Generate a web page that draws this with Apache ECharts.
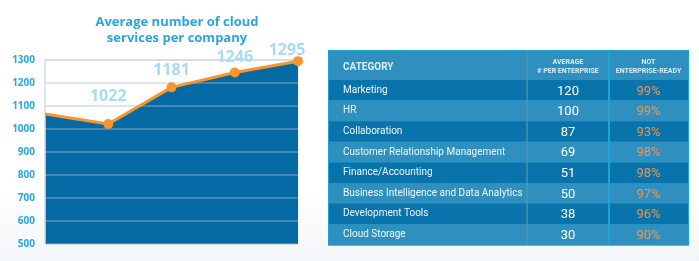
<!DOCTYPE html>
<html><head><meta charset="utf-8">
<script src="https://cdn.jsdelivr.net/npm/echarts@6/dist/echarts.min.js"></script>
<style>
html,body{margin:0;padding:0;}
body{background:linear-gradient(to bottom,#ffffff 0%,#ffffff 72%,#f3f6f9 100%);}
#c{width:699px;height:261px;}
</style>
</head><body><div id="c"></div>
<script>
// ---- line/area chart data ----
const periods = ['p0', 'p1', 'p2', 'p3', 'p4'];
const cloudServices = [1065, 1022, 1181, 1246, 1295];
const labelledPoint = [false, true, true, true, true];
const yMin = 500, yMax = 1300, yStep = 100;

// ---- table data ----
const tableHeaders = ['CATEGORY', 'AVERAGE\n# PER ENTERPRISE', 'NOT\nENTERPRISE-READY'];
const tableCategories = ['Marketing', 'HR', 'Collaboration', 'Customer Relationship Management',
  'Finance/Accounting', 'Business Intelligence and Data Analytics', 'Development Tools', 'Cloud Storage'];
const avgPerEnterprise = [120, 100, 87, 69, 51, 50, 38, 30];
const notEnterpriseReady = ['99%', '99%', '93%', '98%', '98%', '97%', '96%', '90%'];

const chart = echarts.init(document.getElementById('c'), null, {renderer: 'canvas'});

// table layout
const T = {left: 329, right: 688, top: 51, headerH: 29, rowH: 20.6, col1: 527, col2: 609};
const graphics = [];
const tableBottom = T.top + T.headerH + T.rowH * tableCategories.length;
graphics.push({type: 'rect', shape: {x: T.left - 1, y: T.top - 1, width: T.right - T.left + 2, height: tableBottom - T.top + 2}, style: {fill: '#19a4d5'}, z: 0});
graphics.push({type: 'rect', shape: {x: T.left, y: T.top, width: T.right - T.left, height: T.headerH}, style: {fill: '#2f8fbf'}, z: 1});
tableCategories.forEach((c, i) => {
  const y = T.top + T.headerH + i * T.rowH;
  graphics.push({type: 'rect', shape: {x: T.left, y: y, width: T.right - T.left, height: T.rowH}, style: {fill: i % 2 === 0 ? '#0874ab' : '#2f90c0'}, z: 1});
  graphics.push({type: 'text', x: 343, y: y + T.rowH / 2, style: {text: c, fill: '#eef7fc', font: '10px Roboto', verticalAlign: 'middle'}, z: 3});
  graphics.push({type: 'text', x: (T.col1 + T.col2) / 2, y: y + T.rowH / 2 + 1, style: {text: String(avgPerEnterprise[i]), fill: '#ffffff', font: '13px Roboto', align: 'center', verticalAlign: 'middle'}, z: 3});
  graphics.push({type: 'text', x: (T.col2 + T.right) / 2, y: y + T.rowH / 2 + 1, style: {text: notEnterpriseReady[i], fill: '#f0954c', font: '13px Roboto', align: 'center', verticalAlign: 'middle'}, z: 3});
});
// dividers
graphics.push({type: 'rect', shape: {x: T.col1 - 0.5, y: T.top, width: 1.2, height: tableBottom - T.top}, style: {fill: '#5f92aa'}, z: 2});
graphics.push({type: 'rect', shape: {x: T.col2 - 1, y: T.top, width: 2, height: tableBottom - T.top}, style: {fill: '#19a6d6'}, z: 2});
// header text
graphics.push({type: 'text', x: 343, y: T.top + T.headerH / 2 + 2, style: {text: tableHeaders[0], fill: '#d8eef9', font: 'bold 10px Roboto', verticalAlign: 'middle'}, z: 3});
graphics.push({type: 'text', x: (T.col1 + T.col2) / 2, y: T.top + T.headerH / 2 + 1, style: {text: tableHeaders[1], fill: '#d8eef9', font: 'bold 7px Roboto', align: 'center', verticalAlign: 'middle', lineHeight: 9}, z: 3});
graphics.push({type: 'text', x: (T.col2 + T.right) / 2, y: T.top + T.headerH / 2 + 1, style: {text: tableHeaders[2], fill: '#d8eef9', font: 'bold 7px Roboto', align: 'center', verticalAlign: 'middle', lineHeight: 9}, z: 3});

const labelDist = [0, 15, 4, 2, -2];
const labelShiftX = [0, 0, 0, 0, -11];

chart.setOption({
  backgroundColor: 'transparent',
  animation: false,
  title: {
    text: 'Average number of cloud\nservices per company',
    left: 172, top: 9, textAlign: 'center',
    textStyle: {color: '#2aa6dc', fontFamily: 'Open Sans', fontWeight: 'bold', fontSize: 13, lineHeight: 16}
  },
  grid: {left: 45, top: 60, width: 253, height: 184, show: true, borderColor: '#e2e7eb', borderWidth: 1, backgroundColor: 'transparent'},
  xAxis: {
    type: 'category', data: periods, boundaryGap: false,
    axisLabel: {show: false}, axisTick: {show: false},
    axisLine: {show: true, lineStyle: {color: '#d7dee4', width: 1}}, z: 4
  },
  yAxis: {
    type: 'value', min: yMin, max: yMax, interval: yStep, z: 3,
    axisLine: {show: true, lineStyle: {color: '#dbe2e7', width: 1.5}},
    axisTick: {show: false},
    axisLabel: {color: '#2aa7de', fontFamily: 'Open Sans', fontWeight: 'bold', fontSize: 10, margin: 10,
      formatter: v => String(v)},
    splitLine: {show: true, lineStyle: {color: 'rgba(175,185,205,0.5)', width: 1.5}}
  },
  series: [
    {
      type: 'line', data: cloudServices, symbol: 'none', z: 1,
      lineStyle: {width: 0}, areaStyle: {color: '#0569a3', opacity: 1}
    },
    {
      type: 'line', z: 5,
      data: cloudServices.map((v, i) => ({
        value: v,
        symbol: labelledPoint[i] ? 'circle' : 'none',
        label: {show: labelledPoint[i], distance: labelDist[i], offset: [labelShiftX[i], 0]}
      })),
      symbolSize: 10,
      itemStyle: {color: '#f7962d'},
      lineStyle: {color: '#f7962d', width: 3},
      label: {position: 'top', color: '#a8dcf0', fontFamily: 'Open Sans', fontWeight: 'bold', fontSize: 16},
      emphasis: {disabled: true}
    }
  ],
  graphic: graphics
});
</script>
</body></html>
